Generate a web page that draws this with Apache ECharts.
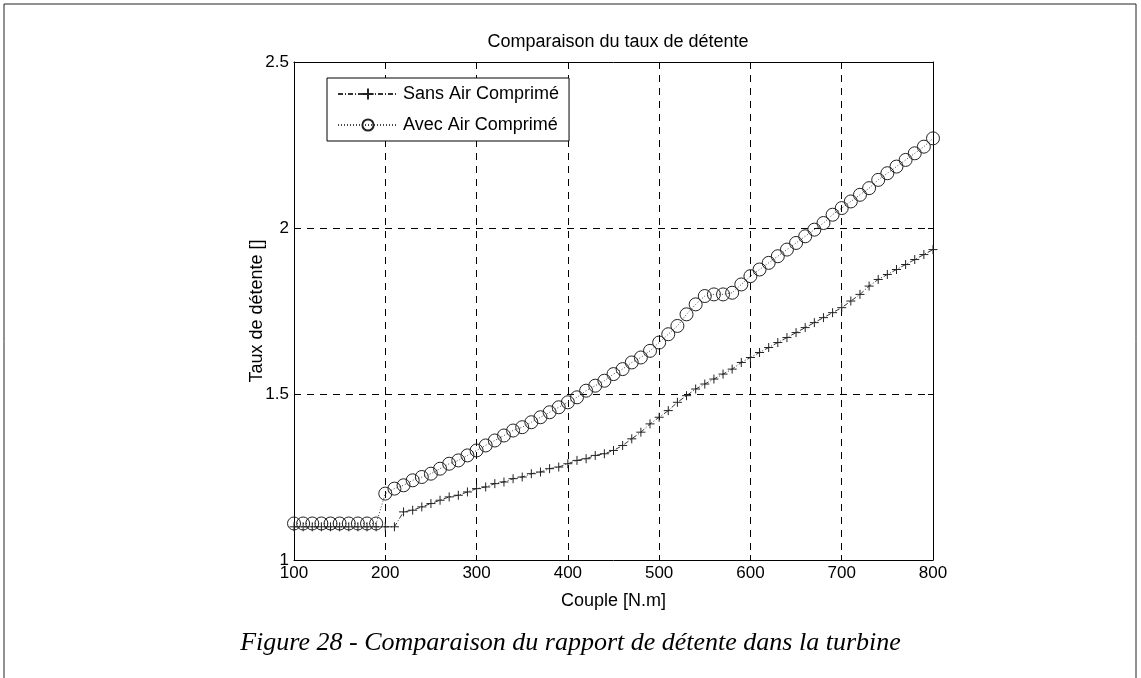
<!DOCTYPE html>
<html>
<head>
<meta charset="utf-8">
<script src="https://cdn.jsdelivr.net/npm/echarts@6/dist/echarts.min.js"></script>
<style>
  html, body { margin: 0; padding: 0; background: #fff; }
  #chart { width: 1141px; height: 678px; }
</style>
</head>
<body>
<div id="chart"></div>
<script>
// couple [N.m]
const couple = [100, 110, 120, 130, 140, 150, 160, 170, 180, 190,
  200, 210, 220, 230, 240, 250, 260, 270, 280, 290,
  300, 310, 320, 330, 340, 350, 360, 370, 380, 390,
  400, 410, 420, 430, 440, 450, 460, 470, 480, 490,
  500, 510, 520, 530, 540, 550, 560, 570, 580, 590,
  600, 610, 620, 630, 640, 650, 660, 670, 680, 690,
  700, 710, 720, 730, 740, 750, 760, 770, 780, 790, 800]

const sansAir = [1.10, 1.10, 1.10, 1.10, 1.10, 1.10, 1.10, 1.10, 1.10, 1.10,
  1.10, 1.10, 1.145, 1.15, 1.16, 1.17, 1.18, 1.19, 1.195, 1.205,
  1.215, 1.22, 1.23, 1.235, 1.245, 1.25, 1.26, 1.265, 1.275, 1.28,
  1.29, 1.30, 1.305, 1.315, 1.32, 1.33, 1.345, 1.365, 1.385, 1.41,
  1.43, 1.45, 1.475, 1.495, 1.515, 1.53, 1.545, 1.56, 1.575, 1.595,
  1.61, 1.625, 1.64, 1.655, 1.67, 1.685, 1.70, 1.715, 1.73, 1.745,
  1.76, 1.78, 1.80, 1.825, 1.845, 1.86, 1.875, 1.89, 1.905, 1.92, 1.935]

const avecAir = [1.11, 1.11, 1.11, 1.11, 1.11, 1.11, 1.11, 1.11, 1.11, 1.11,
  1.20, 1.215, 1.225, 1.24, 1.25, 1.26, 1.275, 1.29, 1.30, 1.315,
  1.33, 1.345, 1.36, 1.375, 1.39, 1.40, 1.415, 1.43, 1.445, 1.46,
  1.475, 1.49, 1.51, 1.525, 1.54, 1.56, 1.575, 1.595, 1.61, 1.63,
  1.655, 1.68, 1.705, 1.74, 1.77, 1.795, 1.80, 1.80, 1.805, 1.83,
  1.855, 1.875, 1.895, 1.915, 1.935, 1.955, 1.975, 1.995, 2.015, 2.04,
  2.06, 2.08, 2.10, 2.12, 2.145, 2.165, 2.185, 2.205, 2.225, 2.245, 2.27]

const seriesNames = ['Sans Air Comprimé', 'Avec Air Comprimé']

const font = 'Liberation Sans, Arial, sans-serif'
const plus = 'path://M0,-5L0,5M-5,0L5,0'

const chart = echarts.init(document.getElementById('chart'), null, { renderer: 'canvas' })

function pairs(ys) {
  return couple.map((x, i) => [x, ys[i]])
}

// top / right copies of the axes, only to close the box with inner ticks
const hiddenAxis = {
  axisLine: { show: true, lineStyle: { color: '#000', width: 1 } },
  axisTick: { show: true, inside: true, length: 5, lineStyle: { color: '#000' } },
  axisLabel: { show: false },
  splitLine: { show: false }
}

chart.setOption({
  backgroundColor: '#fff',
  animation: false,
  title: {
    text: 'Comparaison du taux de détente',
    left: 613,
    textAlign: 'center',
    top: 28,
    textStyle: { fontFamily: font, fontSize: 18, fontWeight: 'normal', color: '#000' }
  },
  grid: { left: 294, right: 208, top: 62, bottom: 118 },
  legend: {
    orient: 'vertical',
    left: 327,
    top: 78,
    padding: [7, 10, 7, 10],
    itemGap: 13,
    itemWidth: 60,
    itemHeight: 14,
    borderColor: '#000',
    borderWidth: 1,
    borderRadius: 0,
    backgroundColor: '#fff',
    textStyle: { fontFamily: font, fontSize: 18, color: '#000' },
    data: seriesNames
  },
  xAxis: [{
    type: 'value',
    min: 100,
    max: 800,
    interval: 100,
    name: 'Couple [N.m]',
    nameLocation: 'middle',
    nameGap: 32,
    nameMoveOverlap: false,
    nameTextStyle: { fontFamily: font, fontSize: 18, color: '#000' },
    axisLine: { show: true, lineStyle: { color: '#000', width: 1 } },
    axisTick: { show: true, inside: true, length: 5, lineStyle: { color: '#000' } },
    axisLabel: { fontFamily: font, fontSize: 17, color: '#000', margin: 5 },
    splitLine: { show: true, lineStyle: { color: '#000', type: [7, 6], width: 1 } }
  }, Object.assign({ type: 'value', min: 100, max: 800, interval: 100, position: 'top' }, hiddenAxis)],
  yAxis: [{
    type: 'value',
    min: 1,
    max: 2.5,
    interval: 0.5,
    name: 'Taux de détente []',
    nameLocation: 'middle',
    nameGap: 28,
    nameMoveOverlap: false,
    nameTextStyle: { fontFamily: font, fontSize: 18, color: '#000' },
    axisLine: { show: true, lineStyle: { color: '#000', width: 1 } },
    axisTick: { show: true, inside: true, length: 5, lineStyle: { color: '#000' } },
    axisLabel: { fontFamily: font, fontSize: 17, color: '#000', margin: 5 },
    splitLine: { show: true, lineStyle: { color: '#000', type: [7, 6], width: 1 } }
  }, Object.assign({ type: 'value', min: 1, max: 2.5, interval: 0.5, position: 'right' }, hiddenAxis)],
  series: [{
    name: seriesNames[0],
    type: 'line',
    data: pairs(sansAir),
    symbol: plus,
    symbolSize: 9,
    showAllSymbol: true,
    lineStyle: { color: '#333', width: 1, type: [5, 2, 1, 2] },
    itemStyle: { color: 'none', borderColor: '#222', borderWidth: 1 }
  }, {
    name: seriesNames[1],
    type: 'line',
    data: pairs(avecAir),
    symbol: 'circle',
    symbolSize: 13,
    showAllSymbol: true,
    lineStyle: { color: '#444', width: 1, type: [1, 2] },
    itemStyle: { color: 'none', borderColor: '#222', borderWidth: 1 }
  }],
  graphic: [{
    type: 'rect',
    shape: { x: 4, y: 4, width: 1132, height: 720 },
    style: { fill: 'none', stroke: '#222', lineWidth: 1 },
    silent: true
  }, {
    type: 'text',
    left: 'center',
    top: 630,
    style: {
      text: 'Figure 28 - Comparaison du rapport de détente dans la turbine',
      font: 'italic 26px "Liberation Serif", "Times New Roman", serif',
      fill: '#000'
    }
  }]
})
</script>
</body>
</html>
